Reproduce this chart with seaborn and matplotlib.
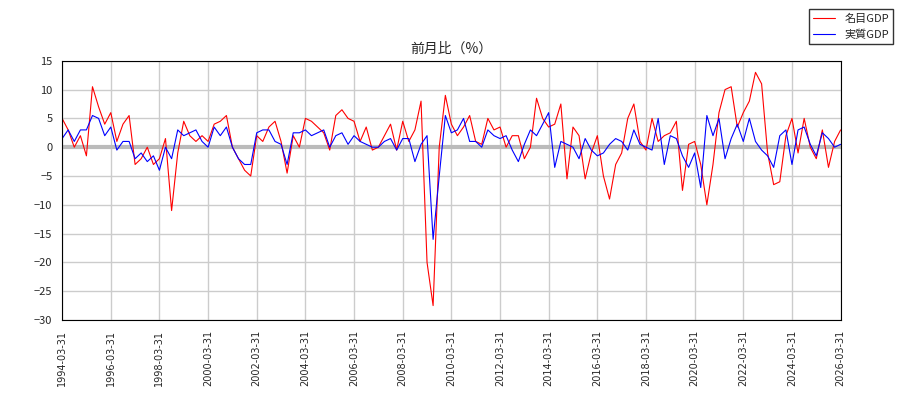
import matplotlib
matplotlib.use("Agg")
import matplotlib.pyplot as plt
import seaborn as sns
import pandas as pd
import numpy as np

dates = pd.date_range("1994-03-31", "2026-03-31", freq="QE-DEC")

nominal = [5,3,0,2, -1.5,10.5,7,4, 6,1,4,5.5, -3,-2,0,-3,
           -2,1.5,-11,-1, 4.5,2,1,2, 1,4,4.5,5.5, 0,-2,-4,-5,
           2,1,3.5,4.5, 1,-4.5,2,0, 5,4.5,3.5,2.5, -0.5,5.5,6.5,5,
           4.5,1,3.5,-0.5, 0,2,4,-0.5, 4.5,1,3,8, -20,-27.5,0,9,
           4,2,3.5,5.5, 1,0.5,5,3, 3.5,0,2,2, -2,0,8.5,5,
           3.5,4,7.5,-5.5, 3.5,2,-5.5,-1, 2,-5,-9,-3, -1,5,7.5,1,
           -0.5,5,1,2, 2.5,4.5,-7.5,0.5, 1,-3,-10,-3, 6,10,10.5,3.5,
           6,8,13,11, -1,-6.5,-6,2, 5,-1,5,0, -2,3,-3.5,1, 3,4]
real = [1.5,3,1,3, 3,5.5,5,2, 3.5,-0.5,1,1, -2,-1,-2.5,-1.5,
        -4,0,-2,3, 2,2.5,3,1, 0,3.5,2,3.5, 0,-2,-3,-3,
        2.5,3,3,1, 0.5,-3,2.5,2.5, 3,2,2.5,3, 0,2,2.5,0.5,
        2,1,0.5,0, 0,1,1.5,-0.5, 1.5,1.5,-2.5,0.5, 2,-16,-5,5.5,
        2.5,3,5,1, 1,0,3,2, 1.5,2,-0.5,-2.5, 0.5,3,2,4,
        6,-3.5,1,0.5, 0,-2,1.5,-0.5, -1.5,-1,0.5,1.5, 1,-0.5,3,0.5,
        0,-0.5,5,-3, 2,1.5,-1.5,-3.5, -1,-7,5.5,2,
        5,-2,1.5,4, 1,5,1,-0.5, -1.5,-3.5,2,3, -3,3,3.5,0.5, -1.5,2.5,1.5,0][:129]
while len(real) < 129:
    real.append(0.5)
df = pd.DataFrame({"date": dates[:129], "名目GDP": nominal[:129], "実質GDP": real})

sns.set_style("white")
plt.rcParams['font.family'] = ['Noto Sans CJK JP', 'DejaVu Sans']
fig, ax = plt.subplots(figsize=(9, 4), dpi=100)
fig.subplots_adjust(left=0.069, right=0.934, top=0.848, bottom=0.2)
ax.axhline(0, color="#bbbbbb", lw=3, zorder=1)
sns.lineplot(data=df, x="date", y="名目GDP", color="red", lw=0.8, ax=ax, label="名目GDP")
sns.lineplot(data=df, x="date", y="実質GDP", color="blue", lw=0.8, ax=ax, label="実質GDP")
ticks = pd.date_range("1994-03-31", "2026-03-31", freq="24ME")
ax.set_xticks(ticks)
ax.set_xticklabels([t.strftime("%Y-%m-%d") for t in ticks], rotation=90, fontsize=7, family="DejaVu Sans")
ax.set_xlim(pd.Timestamp("1994-03-31"), pd.Timestamp("2026-03-31"))
ax.set_ylim(-30, 15)
ax.set_yticks(range(-30, 16, 5))
ax.tick_params(axis='y', labelsize=8)
ax.grid(True, color="#cccccc", lw=1)
ax.set_xlabel(""); ax.set_ylabel("")
ax.set_title("前月比（%）", fontsize=10)
ax.legend(loc="upper right", bbox_to_anchor=(1.075, 1.22), fontsize=8, frameon=True, fancybox=False, edgecolor="black")
for s in ax.spines.values():
    s.set_color("black")
fig.savefig("out.png")
